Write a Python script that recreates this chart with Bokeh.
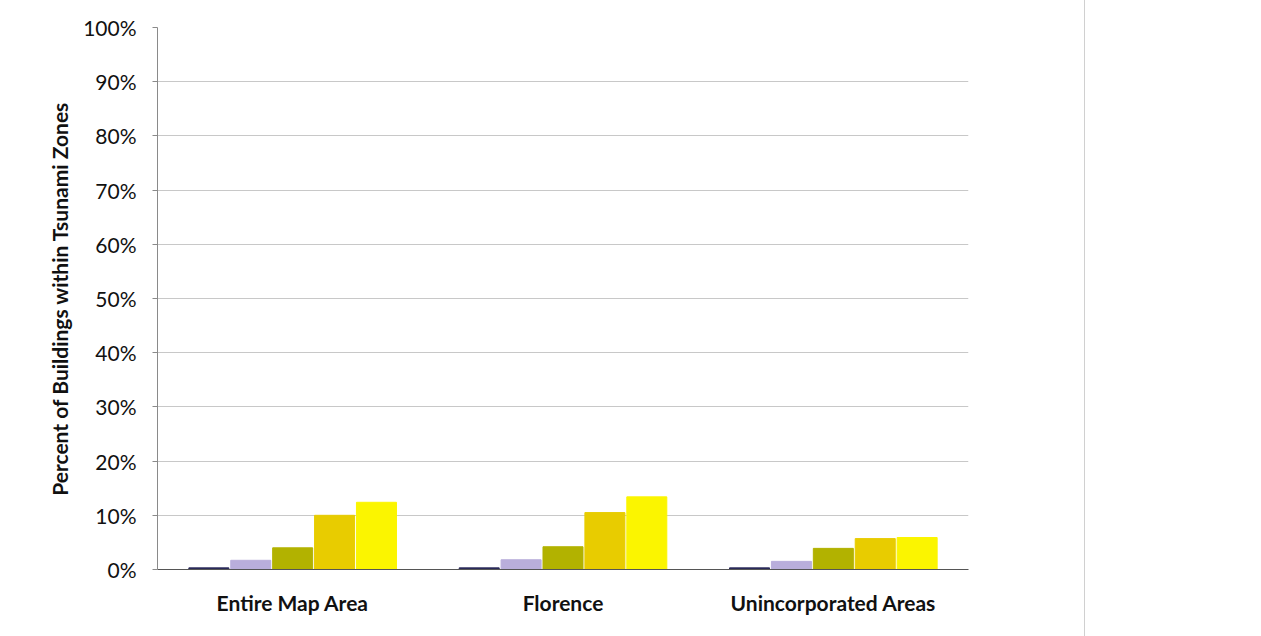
from bokeh.plotting import figure
from bokeh.models import FactorRange, FixedTicker, PrintfTickFormatter
from bokeh.transform import dodge
from bokeh.embed import file_html
from bokeh.resources import INLINE

categories = ["Entire Map Area", "Florence", "Unincorporated Areas"]
series_names = ["Series 1", "Series 2", "Series 3", "Series 4", "Series 5"]
s1 = [0.3, 0.3, 0.3]
s2 = [1.7, 1.8, 1.5]
s3 = [4.0, 4.2, 3.9]
s4 = [10.0, 10.5, 5.7]
s5 = [12.4, 13.4, 5.9]
colors = ["#2a2a5a", "#b9aedb", "#b2b200", "#e8cc00", "#fbf500"]
y_ticks = [0, 10, 20, 30, 40, 50, 60, 70, 80, 90, 100]

data = dict(cat=categories, s1=s1, s2=s2, s3=s3, s4=s4, s5=s5)

p = figure(x_range=FactorRange(*categories, range_padding=0), y_range=(0, 100),
           width=1085, height=636, output_backend="svg", toolbar_location=None,
           min_border_left=157, min_border_right=117, min_border_top=27, min_border_bottom=67)
p.styles = {"border-right": "1px solid #d0d0d0"}
p.outline_line_color = None

offsets = [-0.31, -0.155, 0.0, 0.155, 0.31]
for key, off, col in zip(["s1", "s2", "s3", "s4", "s5"], offsets, colors):
    p.vbar(x=dodge("cat", off, range=p.x_range), top=key, width=0.148, source=data,
           fill_color=col, line_color=col)

p.xgrid.grid_line_color = None
p.ygrid.grid_line_color = "#c8c8c8"
p.ygrid.grid_line_width = 1

p.yaxis.ticker = FixedTicker(ticks=y_ticks)
p.yaxis.formatter = PrintfTickFormatter(format="%d%%")
p.yaxis.axis_label = "Percent of Buildings within Tsunami Zones"
p.yaxis.axis_label_text_font = "Lato"
p.yaxis.axis_label_text_font_style = "bold"
p.yaxis.axis_label_text_font_size = "21px"
p.yaxis.axis_label_text_color = "#111111"
p.yaxis.axis_label_standoff = 8
p.yaxis.major_label_text_font = "Lato"
p.yaxis.major_label_text_font_size = "21px"
p.yaxis.major_label_text_color = "#111111"
p.yaxis.axis_line_color = "#8a8a8a"
p.yaxis.major_tick_line_color = "#8a8a8a"
p.yaxis.major_tick_out = 5
p.yaxis.major_tick_in = 0
p.yaxis.minor_tick_line_color = None
p.yaxis.major_label_standoff = 16

p.xaxis.major_label_text_font = "Lato"
p.xaxis.major_label_text_font_style = "bold"
p.xaxis.major_label_text_font_size = "21px"
p.xaxis.major_label_text_color = "#111111"
p.xaxis.axis_line_color = "#555555"
p.xaxis.major_tick_line_color = None
p.xaxis.major_label_standoff = 14

open("out.html", "w").write(file_html(p, INLINE))
